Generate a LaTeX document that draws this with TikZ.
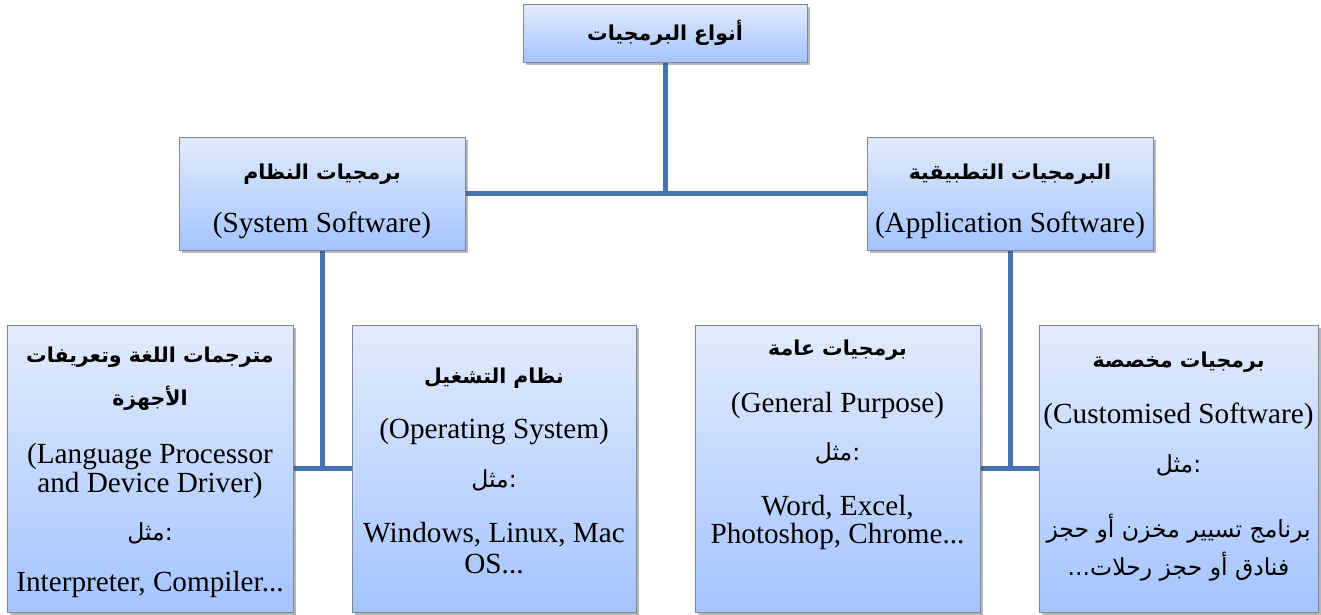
\documentclass[tikz,border=0pt]{standalone}
\usepackage{fontspec}
\setmainfont{Liberation Serif}
\newfontfamily\arabicfont[Script=Arabic]{DejaVu Sans}
\TeXXeTstate=1
\usetikzlibrary{shadows,backgrounds}
\definecolor{linkblue}{RGB}{69,114,176}
\definecolor{boxtop}{RGB}{226,235,252}
\definecolor{boxbot}{RGB}{164,196,255}
\definecolor{boxedge}{RGB}{125,135,150}
\tikzset{
  box/.style={draw=boxedge, line width=1pt, top color=boxtop, bottom color=boxbot,
    inner sep=0pt, drop shadow={shadow xshift=3pt, shadow yshift=-3pt, opacity=0.4, fill=black!70}},
  conn/.style={draw=linkblue, line width=5pt},
  en/.style={anchor=base, inner sep=0pt, font=\fontsize{29.2}{28.5}\selectfont},
  ar/.style={anchor=base, inner sep=0pt, font=\fontsize{20.5}{26}\selectfont\arabicfont\bfseries},
  arn/.style={anchor=base, inner sep=0pt, font=\fontsize{23.5}{26}\selectfont\arabicfont},
}
\begin{document}
\begin{tikzpicture}[x=1pt, y=-1pt]
\useasboundingbox (0,0) rectangle (1321,614);
% boxes
\node[box, minimum width=284pt, minimum height=58pt] (top) at (665,33) {};
\node[box, minimum width=286pt, minimum height=113pt] (sys) at (322,193.5) {};
\node[box, minimum width=286pt, minimum height=113pt] (app) at (1010,193.5) {};
\node[box, minimum width=286pt, minimum height=287pt] (lp) at (150,468.5) {};
\node[box, minimum width=284pt, minimum height=287pt] (os) at (494,468.5) {};
\node[box, minimum width=285pt, minimum height=287pt] (gp) at (837.5,468.5) {};
\node[box, minimum width=279pt, minimum height=287pt] (cu) at (1178.5,468.5) {};
% connectors
\begin{scope}[on background layer]
\draw[conn] (top.south) -- (top.south |- sys.east);
\draw[conn] (sys.east) -- (app.west);
\draw[conn] (sys.south) -- (sys.south |- lp.east);
\draw[conn] (lp.east) -- (os.west);
\draw[conn] (app.south) -- (app.south |- gp.east);
\draw[conn] (gp.east) -- (cu.west);
\end{scope}
% texts
\node[ar] (topt) at (665,40) {\beginR أنواع البرمجيات\endR};
\node[ar] (sys1) at (322,179) {\beginR برمجيات النظام\endR};
\node[en] (sys2) at (322,232) {(System Software)};
\node[ar] (app1) at (1010,179) {\beginR البرمجيات التطبيقية\endR};
\node[en] (app2) at (1010,232) {(Application Software)};
\node[ar] (lp1) at (150,362) {\beginR مترجمات اللغة وتعريفات\endR};
\node[ar] (lp2) at (150,405) {\beginR الأجهزة\endR};
\node[en] (lp3) at (150,463) {(Language Processor};
\node[en] (lp4) at (150,492) {and Device Driver)};
\node[arn] (lp5) at (150,540) {\beginR مثل\endR:};
\node[en] (lp6) at (150,591) {Interpreter, Compiler...};
\node[ar] (os1) at (494,383) {\beginR نظام التشغيل\endR};
\node[en] (os2) at (494,438) {(Operating System)};
\node[arn] (os3) at (494,487) {\beginR مثل\endR:};
\node[en] (os4) at (494,542) {Windows, Linux, Mac};
\node[en] (os5) at (494,573) {OS...};
\node[ar] (gp1) at (837.5,355) {\beginR برمجيات عامة\endR};
\node[en] (gp2) at (837.5,412) {(General Purpose)};
\node[arn] (gp3) at (837.5,460) {\beginR مثل\endR:};
\node[en] (gp4) at (837.5,515) {Word, Excel,};
\node[en] (gp5) at (837.5,543) {Photoshop, Chrome...};
\node[ar] (cu1) at (1178.5,367) {\beginR برمجيات مخصصة\endR};
\node[en] (cu2) at (1178.5,423) {(Customised Software)};
\node[arn] (cu3) at (1178.5,472) {\beginR مثل\endR:};
\node[arn] (cu4) at (1178.5,537) {\beginR برنامج تسيير مخزن أو حجز\endR};
\node[arn] (cu5) at (1178.5,575) {\beginR فنادق أو حجز رحلات...\endR};
\end{tikzpicture}
\end{document}
